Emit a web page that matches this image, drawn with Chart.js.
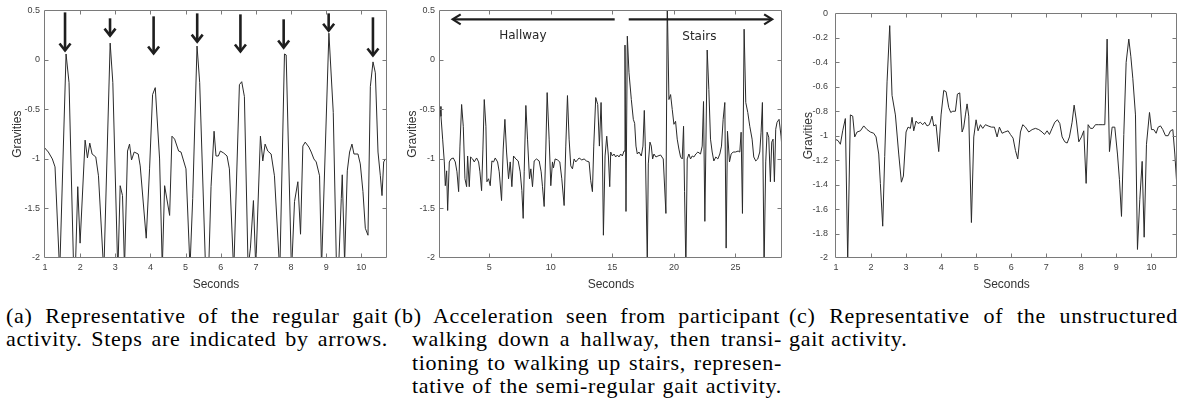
<!DOCTYPE html>
<html><head><meta charset="utf-8">
<script src="https://cdn.jsdelivr.net/npm/chart.js@4/dist/chart.umd.min.js"></script>
<style>
html,body{margin:0;padding:0;background:#fff}
body{width:1184px;height:402px;overflow:hidden;position:relative}
canvas{position:absolute;top:0}
.cap{position:absolute;font-family:"Liberation Serif",serif;font-size:22px;line-height:23.3px;color:#000;letter-spacing:0.7px}
.cap div{text-align:justify;text-align-last:justify;white-space:nowrap}
.cap div.nat{text-align:left;text-align-last:left}
</style></head><body>
<canvas id="ca" width="392" height="300" style="left:0"></canvas>
<canvas id="cb" width="392" height="300" style="left:395px"></canvas>
<canvas id="cc" width="391" height="300" style="left:791px"></canvas>

<div class="cap" style="left:6px;top:304px;width:382px">
<div>(a) Representative of the regular gait</div>
<div>activity. Steps are indicated by arrows.</div>
</div>
<div class="cap" style="left:394px;top:304px;width:386px">
<div>(b) Acceleration seen from participant</div>
</div>
<div class="cap" style="left:412px;top:327.3px;width:370px">
<div>walking down a hallway, then transi-</div>
<div>tioning to walking up stairs, represen-</div>
<div>tative of the semi-regular gait activity.</div>
</div>
<div class="cap" style="left:789px;top:304px;width:389px">
<div>(c) Representative of the unstructured</div>
<div class="nat">gait activity.</div>
</div>

<script>
// ---------- Panel (a): regular gait ----------
const timesA = [0.97,1.095,1.209,1.285,1.418,1.599,1.684,1.817,1.865,1.932,1.998,2.141,2.207,2.274,2.340,2.445,2.521,2.673,2.854,2.930,3.072,3.139,3.205,3.262,3.348,3.405,3.462,3.538,3.652,3.709,3.880,3.975,4.061,4.137,4.260,4.337,4.403,4.546,4.612,4.688,4.802,4.869,5.011,5.125,5.202,5.325,5.401,5.572,5.658,5.724,5.810,5.865,5.932,5.989,6.084,6.179,6.246,6.369,6.531,6.597,6.673,6.778,6.844,6.930,6.996,7.129,7.196,7.262,7.338,7.433,7.528,7.680,7.813,7.861,8.013,8.099,8.194,8.270,8.336,8.403,8.507,8.574,8.650,8.716,8.811,8.868,9.077,9.201,9.296,9.353,9.429,9.457,9.524,9.600,9.666,9.733,9.790,9.904,9.970,10.046,10.113,10.189,10.256,10.332,10.398,10.474,10.541,10.588,10.636,10.683,10.759];
const gravA = [-0.88,-0.93,-1.0,-1.08,-2.15,0.06,-0.23,-2.15,-2.1,-1.28,-1.85,-0.81,-0.99,-0.84,-0.95,-0.98,-1.17,-2.15,0.17,-0.23,-2.15,-1.27,-1.37,-2.1,-0.92,-0.85,-1.01,-0.93,-0.95,-1.07,-1.8,-1.1,-0.35,-0.28,-1.0,-2.1,-1.27,-1.57,-0.77,-0.8,-0.92,-0.93,-1.1,-2.1,-1.4,0.14,-0.23,-2.15,-2.1,-1.28,-0.72,-0.97,-0.97,-0.92,-0.94,-0.97,-1.1,-2.15,-0.25,-0.22,-0.37,-2.1,-1.9,-1.42,-2.1,-0.77,-1.02,-0.85,-0.92,-0.95,-1.17,-2.15,0.06,0.05,-2.15,-1.43,-1.23,-1.76,-0.87,-0.83,-0.88,-0.93,-1.0,-1.03,-1.17,-2.1,0.27,-0.53,-2.15,-2.1,-1.4,-1.16,-2.05,-1.12,-0.93,-0.85,-0.95,-0.95,-1.05,-1.33,-1.7,-1.77,-0.27,-0.02,-0.13,-0.93,-1.17,-1.37,-1.03,-1.0,-1.03];
const xTicksA = [1,2,3,4,5,6,7,8,9,10];
const yTicksA = [0.5,0,-0.5,-1,-1.5,-2];
// step arrows (seconds, gravities)
const arrowTimesA = [1.57,2.85,4.09,5.33,6.56,7.79,9.07,10.33];
const arrowTopsA  = [0.48,0.42,0.44,0.47,0.46,0.41,0.47,0.43];
const arrowTipsA  = [0.08,0.23,0.05,0.17,0.07,0.11,0.28,0.03];

// ---------- Panel (b): hallway then stairs ----------
const timesB = [1.0,1.080,1.215,1.350,1.431,1.540,1.621,1.756,1.891,2.080,2.242,2.378,2.513,2.621,2.756,2.891,3.026,3.162,3.243,3.378,3.486,3.648,3.783,3.973,4.135,4.243,4.378,4.486,4.595,4.730,4.811,4.946,5.081,5.216,5.351,5.487,5.676,5.811,6.000,6.135,6.271,6.406,6.568,6.703,6.838,6.973,7.163,7.352,7.514,7.649,7.757,7.839,7.974,8.109,8.271,8.379,8.514,8.650,8.839,9.055,9.217,9.325,9.461,9.596,9.704,9.866,10.001,10.136,10.217,10.353,10.542,10.731,10.893,11.083,11.218,11.353,11.488,11.623,11.759,11.894,12.029,12.164,12.299,12.515,12.705,12.894,13.110,13.245,13.381,13.489,13.651,13.813,13.948,14.084,14.192,14.273,14.408,14.543,14.678,14.786,14.867,15.0,15.135,15.270,15.406,15.541,15.676,15.811,15.946,16.027,16.108,16.216,16.351,16.541,16.703,16.811,16.919,17.027,17.162,17.351,17.486,17.595,17.676,17.838,17.919,18.054,18.162,18.270,18.378,18.541,18.703,18.919,19.135,19.351,19.459,19.595,19.730,19.865,20.0,20.135,20.270,20.405,20.541,20.676,20.784,20.865,20.973,21.081,21.216,21.351,21.486,21.622,21.784,21.946,22.162,22.297,22.405,22.514,22.703,22.838,22.973,23.108,23.243,23.405,23.568,23.730,23.865,24.0,24.135,24.243,24.351,24.514,24.649,24.811,25.0,25.216,25.351,25.459,25.568,25.703,25.838,26.0,26.162,26.351,26.486,26.649,26.811,26.973,27.081,27.189,27.324,27.459,27.568,27.703,27.838,27.946,28.054,28.162,28.270,28.378,28.541,28.703,28.784];
const gravB = [-0.47,-0.57,-0.8,-1.03,-1.27,-1.12,-1.52,-1.03,-1.0,-0.99,-1.03,-1.13,-1.33,-0.87,-0.45,-0.67,-1.2,-1.28,-0.97,-1.28,-0.98,-1.0,-1.03,-0.99,-1.03,-1.13,-1.32,-0.9,-0.4,-0.67,-1.23,-1.2,-1.27,-1.02,-1.03,-0.99,-1.03,-1.13,-1.42,-0.9,-0.6,-0.93,-1.2,-1.03,-1.28,-0.97,-1.0,-1.02,-1.13,-1.32,-1.6,-1.13,-0.46,-0.8,-1.2,-1.1,-1.28,-1.02,-1.0,-1.02,-1.13,-1.28,-1.48,-0.9,-0.33,-0.8,-1.27,-1.03,-1.09,-1.0,-1.01,-1.03,-1.2,-1.47,-0.87,-0.36,-0.8,-1.07,-1.1,-1.0,-1.03,-1.01,-0.99,-1.01,-1.0,-1.02,-1.03,-1.22,-1.33,-0.87,-0.38,-0.45,-0.87,-0.43,-0.93,-1.77,-0.97,-0.77,-0.97,-1.28,-0.93,-0.97,-0.95,-0.98,-0.96,-0.98,-0.95,-0.97,-0.92,0.15,-1.53,0.24,-0.13,-0.4,-0.6,-0.64,-0.87,-0.95,-0.93,-0.97,-0.87,-0.51,-0.87,-2.05,-1.05,-0.83,-0.87,-1.0,-0.95,-0.98,-0.97,-0.96,-1.0,-1.55,0.6,-0.4,-0.35,-0.5,-0.65,-0.62,-0.8,-0.9,-0.98,-1.0,-0.67,-1.33,-2.1,-1.0,-0.95,-1.0,-0.97,-0.98,-0.95,-0.93,-0.95,-0.87,-0.42,-1.63,0.1,-0.3,-0.8,-0.93,-1.02,-0.98,-1.0,-0.95,-0.87,-0.6,-0.43,-1.9,-0.72,-1.03,-0.95,-0.93,-0.93,-0.92,-0.93,-0.73,-1.55,0.31,-0.43,-0.53,-0.67,-0.8,-0.98,-1.02,-1.0,-0.93,-0.73,-0.43,-2.1,-1.03,-0.73,-0.78,-1.23,-0.83,-0.8,-1.23,-0.7,-0.63,-0.6,-0.77,-0.9];
const xTicksB = [5,10,15,20,25];
const yTicksB = [0.5,0,-0.5,-1,-1.5,-2];
// section arrows: [from, to] in seconds, at a gravity level
const hallwayArrow = [15.19, 2.03];
const stairsArrow  = [16.33, 27.98];
const sectionArrowLevel = 0.41;
const sectionLabels = ["Hallway", "Stairs"];
const sectionLabelTimes = [7.73, 22.07];
const sectionLabelLevels = [0.24, 0.23];

// ---------- Panel (c): unstructured ----------
const timesC = [0.982,1.058,1.125,1.191,1.267,1.334,1.410,1.477,1.534,1.600,1.696,1.791,1.886,1.981,2.076,2.143,2.219,2.266,2.333,2.390,2.457,2.533,2.599,2.695,2.790,2.866,2.923,2.999,3.056,3.123,3.170,3.218,3.284,3.342,3.408,3.475,3.532,3.598,3.665,3.741,3.789,3.855,3.931,3.998,4.074,4.141,4.217,4.274,4.331,4.407,4.464,4.531,4.598,4.645,4.693,4.740,4.788,4.864,4.931,4.997,5.054,5.121,5.187,5.264,5.340,5.435,5.520,5.597,5.663,5.739,5.815,5.911,5.977,6.053,6.120,6.186,6.263,6.329,6.405,6.500,6.596,6.691,6.786,6.881,6.948,7.024,7.090,7.166,7.243,7.319,7.386,7.452,7.528,7.595,7.661,7.737,7.795,7.861,7.928,8.004,8.070,8.137,8.194,8.261,8.327,8.403,8.498,8.594,8.670,8.736,8.803,8.879,8.955,9.031,9.088,9.146,9.212,9.279,9.355,9.412,9.469,9.545,9.602,9.669,9.736,9.793,9.859,9.945,10.002,10.068,10.135,10.192,10.259,10.325,10.401,10.478,10.544,10.611,10.668,10.735];
const gravC = [-1.03,-1.04,-1.07,-0.96,-0.86,-2.02,-0.83,-0.84,-1.01,-0.97,-0.96,-0.92,-0.95,-0.97,-0.98,-1.01,-1.15,-1.39,-1.74,-1.17,-0.56,-0.10,-0.67,-0.83,-1.15,-1.38,-1.33,-0.97,-0.93,-0.94,-0.85,-0.96,-0.88,-0.9,-0.89,-0.91,-0.89,-0.92,-0.91,-0.84,-0.92,-0.91,-1.13,-0.83,-0.63,-0.64,-0.77,-0.81,-0.8,-0.8,-0.66,-0.65,-0.97,-0.93,-0.83,-0.74,-0.84,-1.71,-1.01,-0.87,-0.96,-0.91,-0.94,-0.91,-0.92,-0.93,-0.93,-1.01,-0.93,-0.98,-0.97,-0.96,-0.99,-1.02,-1.12,-1.19,-0.97,-0.91,-0.93,-0.97,-0.95,-0.94,-0.95,-0.97,-0.99,-0.96,-0.99,-0.94,-0.89,-0.87,-0.9,-1.01,-1.05,-1.06,-1.01,-0.89,-0.75,-0.88,-1.05,-1.01,-0.96,-1.39,-0.91,-0.94,-0.94,-0.91,-0.91,-0.91,-0.91,-0.21,-1.13,-0.93,-0.93,-1.15,-1.36,-1.66,-0.99,-0.4,-0.21,-0.35,-0.53,-0.83,-1.93,-1.52,-1.21,-1.83,-1.07,-0.81,-0.95,-0.95,-0.98,-0.93,-0.92,-0.95,-1.0,-1.0,-0.96,-0.95,-1.15,-1.45];
const xTicksC = [1,2,3,4,5,6,7,8,9,10];
const yTicksC = [0,-0.2,-0.4,-0.6,-0.8,-1,-1.2,-1.4,-1.6,-1.8,-2];

// ---------- shared helpers ----------
const AXIS_COLOR = '#7a7a7a';
const TEXT_COLOR = '#404040';
const LINE_COLOR = '#2a2a2a';
const fmt = v => String(Math.round(v * 100) / 100);

const boxPlugin = {
  id: 'matlabBox',
  afterDatasetsDraw(chart) {
    const {ctx, chartArea: a, scales: {x, y}} = chart;
    const L = Math.round(a.left) - 0.5, R = Math.round(a.right) - 0.5;
    const T = Math.round(a.top) + 0.5, B = Math.round(a.bottom) - 0.5;
    const tl = 4;
    ctx.save();
    ctx.strokeStyle = AXIS_COLOR;
    ctx.lineWidth = 1;
    ctx.beginPath();
    ctx.rect(L, T, R - L, B - T);
    x.ticks.forEach(t => {
      const px = Math.round(x.getPixelForValue(t.value)) + 0.5;
      if (px <= L + 1 || px >= R - 1) return;
      ctx.moveTo(px, B); ctx.lineTo(px, B - tl);
      ctx.moveTo(px, T); ctx.lineTo(px, T + tl);
    });
    y.ticks.forEach(t => {
      const py = Math.round(y.getPixelForValue(t.value)) + 0.5;
      if (py <= T + 1 || py >= B - 1) return;
      ctx.moveTo(L, py); ctx.lineTo(L + tl, py);
      ctx.moveTo(R, py); ctx.lineTo(R - tl, py);
    });
    ctx.stroke();
    ctx.restore();
  }
};

function makeChart(id, times, vals, xr, yr, xt, yt, yPad, extraPlugins) {
  return new Chart(document.getElementById(id), {
    type: 'line',
    data: {
      datasets: [{
        data: times.map((t, i) => ({x: t, y: vals[i]})),
        borderColor: LINE_COLOR,
        borderWidth: 1,
        pointRadius: 0,
        tension: 0,
        fill: false
      }]
    },
    options: {
      responsive: false,
      animation: false,
      events: [],
      layout: {padding: {top: 8, right: 5, left: 0, bottom: 0}},
      plugins: {legend: {display: false}, tooltip: {enabled: false}},
      scales: {
        x: {
          type: 'linear', min: xr[0], max: xr[1],
          grid: {display: false, drawTicks: false},
          border: {display: false},
          ticks: {
            font: {family: 'Liberation Sans', size: 9}, color: TEXT_COLOR,
            padding: 4, maxRotation: 0, autoSkip: false, callback: fmt
          },
          afterBuildTicks: s => { s.ticks = xt.map(v => ({value: v})); },
          afterFit: s => { s.height = 42; },
          title: {
            display: true, text: 'Seconds', color: '#333',
            font: {family: 'Liberation Sans', size: 12},
            padding: {top: 0, bottom: 8}
          }
        },
        y: {
          type: 'linear', min: yr[0], max: yr[1],
          grid: {display: false, drawTicks: false},
          border: {display: false},
          ticks: {
            font: {family: 'Liberation Sans', size: 9}, color: TEXT_COLOR,
            padding: yPad, autoSkip: false, callback: fmt
          },
          afterBuildTicks: s => { s.ticks = yt.map(v => ({value: v})); },
          afterFit: s => { s.width = 45; },
          title: {
            display: true, text: 'Gravities', color: '#333',
            font: {family: 'Liberation Sans', size: 12},
            padding: {top: 10, bottom: 0}
          }
        }
      }
    },
    plugins: [boxPlugin].concat(extraPlugins || [])
  });
}

// step arrows for (a)
const stepArrowsPlugin = {
  id: 'stepArrows',
  afterDatasetsDraw(chart) {
    const {ctx, scales: {x, y}} = chart;
    ctx.save();
    ctx.strokeStyle = '#1e1e1e';
    ctx.lineWidth = 2.6;
    ctx.lineCap = 'butt';
    ctx.lineJoin = 'miter';
    arrowTimesA.forEach((t, i) => {
      const px = x.getPixelForValue(t);
      const top = y.getPixelForValue(arrowTopsA[i]);
      const tip = y.getPixelForValue(arrowTipsA[i]);
      ctx.beginPath();
      ctx.moveTo(px, top); ctx.lineTo(px, tip - 1.5);
      ctx.stroke();
      ctx.beginPath();
      ctx.moveTo(px - 5.5, tip - 8.5); ctx.lineTo(px, tip - 1.5); ctx.lineTo(px + 5.5, tip - 8.5);
      ctx.stroke();
    });
    ctx.restore();
  }
};

// section arrows + labels for (b)
const sectionPlugin = {
  id: 'sections',
  afterDatasetsDraw(chart) {
    const {ctx, scales: {x, y}} = chart;
    const py = y.getPixelForValue(sectionArrowLevel);
    ctx.save();
    ctx.strokeStyle = '#1e1e1e';
    ctx.lineWidth = 2.2;
    [hallwayArrow, stairsArrow].forEach(([from, to]) => {
      const x0 = x.getPixelForValue(from), x1 = x.getPixelForValue(to);
      const d = Math.sign(x1 - x0);
      ctx.beginPath();
      ctx.moveTo(x0, py); ctx.lineTo(x1 - d * 1, py);
      ctx.stroke();
      ctx.beginPath();
      ctx.moveTo(x1 - d * 8, py - 5); ctx.lineTo(x1, py); ctx.lineTo(x1 - d * 8, py + 5);
      ctx.stroke();
    });
    ctx.fillStyle = '#262626';
    ctx.font = '12px "DejaVu Sans"';
    ctx.textAlign = 'center';
    ctx.textBaseline = 'middle';
    sectionLabels.forEach((s, i) => {
      ctx.fillText(s, x.getPixelForValue(sectionLabelTimes[i]), y.getPixelForValue(sectionLabelLevels[i]));
    });
    ctx.restore();
  }
};

makeChart('ca', timesA, gravA, [1, 10.73], [-2, 0.5], xTicksA, yTicksA, 5, [stepArrowsPlugin]);
makeChart('cb', timesB, gravB, [1, 28.78], [-2, 0.5], xTicksB, yTicksB, 5, [sectionPlugin]);
makeChart('cc', timesC, gravC, [1, 10.73], [-2, 0], xTicksC, yTicksC, 8);
</script>
</body></html>
